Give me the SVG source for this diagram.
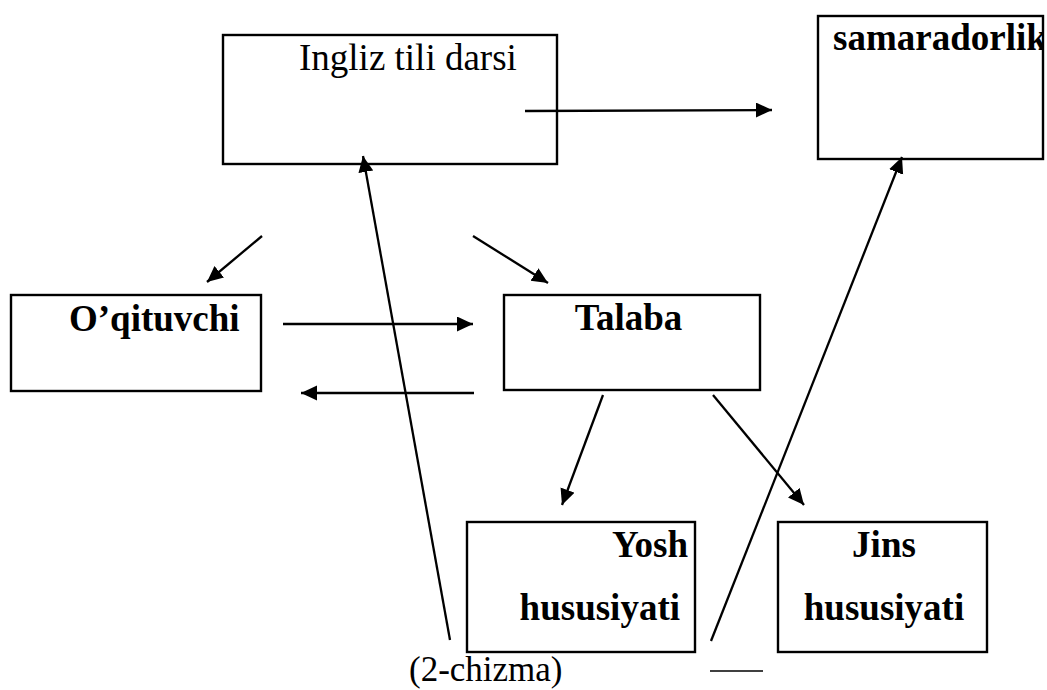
<svg xmlns="http://www.w3.org/2000/svg" width="1047" height="690" viewBox="0 0 1047 690">
<style>
.box{fill:#fff;stroke:#000;stroke-width:2.4}
.t{font-family:"Liberation Serif","Times New Roman",serif;font-size:37px;fill:#000}
.b{font-weight:bold}
.c{stroke:#000;stroke-width:2.3;fill:none}
</style>
<defs>
<marker id="ah" markerUnits="userSpaceOnUse" markerWidth="18" markerHeight="16" refX="16" refY="7.5" orient="auto">
<path d="M0,0 L16,7.5 L0,15 z" fill="#000"/>
</marker>
<clipPath id="sclip"><rect x="818" y="16" width="225" height="143"/></clipPath>
</defs>
<rect width="1047" height="690" fill="#fff"/>
<g id="ingliz">
<rect class="box" x="223" y="35" width="334" height="129"/>
<text class="t" x="299" y="70">Ingliz tili darsi</text>
</g>
<g id="samaradorlik">
<rect class="box" x="818" y="16" width="225" height="143"/>
<text class="t b" x="833" y="50" clip-path="url(#sclip)">samaradorlik</text>
</g>
<g id="oqituvchi">
<rect class="box" x="11" y="295" width="250" height="96"/>
<text class="t b" x="69" y="331">O’qituvchi</text>
</g>
<g id="talaba">
<rect class="box" x="504" y="295" width="256" height="95"/>
<text class="t b" x="628.5" y="330" text-anchor="middle">Talaba</text>
</g>
<g id="yosh">
<rect class="box" x="467" y="522" width="228" height="130"/>
<text class="t b" x="688" y="557" text-anchor="end">Yosh</text>
<text class="t b" x="680" y="620" text-anchor="end">hususiyati</text>
</g>
<g id="jins">
<rect class="box" x="778" y="522" width="209" height="130"/>
<text class="t b" x="884" y="557" text-anchor="middle">Jins</text>
<text class="t b" x="884" y="620" text-anchor="middle">hususiyati</text>
</g>
<g id="connectors">
<line class="c" x1="525" y1="111" x2="772" y2="110" marker-end="url(#ah)"/>
<line class="c" x1="262" y1="236" x2="207" y2="282" marker-end="url(#ah)"/>
<line class="c" x1="473" y1="236" x2="548" y2="283" marker-end="url(#ah)"/>
<line class="c" x1="283" y1="324" x2="473" y2="324" marker-end="url(#ah)"/>
<line class="c" x1="474" y1="393" x2="301" y2="393" marker-end="url(#ah)"/>
<line class="c" x1="603" y1="395" x2="562" y2="505" marker-end="url(#ah)"/>
<line class="c" x1="713" y1="395" x2="804" y2="505" marker-end="url(#ah)"/>
<line class="c" x1="450" y1="640" x2="363" y2="156" marker-end="url(#ah)"/>
<line class="c" x1="711" y1="641" x2="902" y2="157" marker-end="url(#ah)"/>
<line stroke="#000" stroke-width="1.5" x1="710" y1="671" x2="763" y2="671"/>
</g>
<text class="t" style="font-size:35px" x="409" y="681">(2-chizma)</text>
</svg>
